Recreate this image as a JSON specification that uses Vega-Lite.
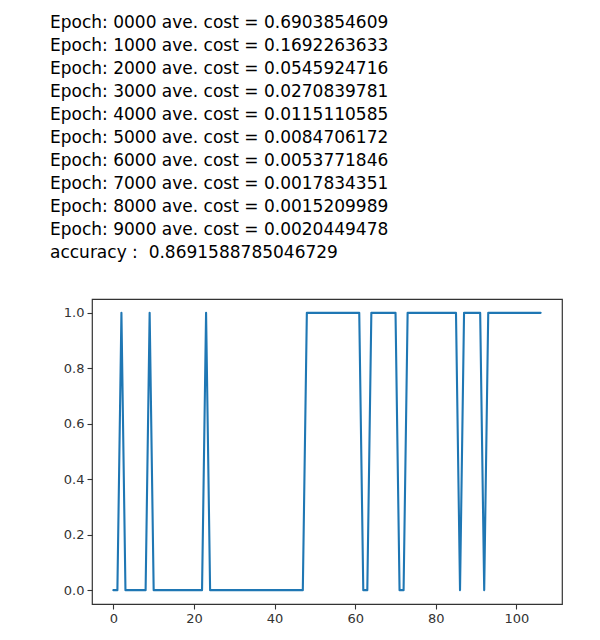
{
  "$schema": "https://vega.github.io/schema/vega-lite/v6.json",
  "autosize": {"type": "none"},
  "width": 470,
  "height": 305,
  "padding": {"left": 92, "top": 299, "right": 38, "bottom": 36},
  "background": "white",
  "title": {
    "text": [
      "Epoch: 0000 ave. cost = 0.6903854609",
      "Epoch: 1000 ave. cost = 0.1692263633",
      "Epoch: 2000 ave. cost = 0.0545924716",
      "Epoch: 3000 ave. cost = 0.0270839781",
      "Epoch: 4000 ave. cost = 0.0115110585",
      "Epoch: 5000 ave. cost = 0.0084706172",
      "Epoch: 6000 ave. cost = 0.0053771846",
      "Epoch: 7000 ave. cost = 0.0017834351",
      "Epoch: 8000 ave. cost = 0.0015209989",
      "Epoch: 9000 ave. cost = 0.0020449478",
      "accuracy :\u00a0 0.8691588785046729"
    ],
    "anchor": "start",
    "frame": "group",
    "orient": "top",
    "font": "DejaVu Sans",
    "fontSize": 17,
    "fontWeight": "normal",
    "lineHeight": 23,
    "color": "#000000",
    "dx": -42,
    "offset": 37
  },
  "config": {
    "view": {"stroke": "#333333", "strokeWidth": 1.2},
    "axis": {
      "labelFont": "DejaVu Sans",
      "labelFontSize": 13,
      "labelColor": "#333333",
      "tickColor": "#333333",
      "tickSize": 5,
      "tickWidth": 1.1,
      "labelPadding": 3,
      "grid": false,
      "domain": false,
      "title": null
    }
  },
  "data": {
    "values": [
      {"i": 0, "v": 0}, {"i": 1, "v": 0}, {"i": 2, "v": 1}, {"i": 3, "v": 0}, {"i": 4, "v": 0},
      {"i": 5, "v": 0}, {"i": 6, "v": 0}, {"i": 7, "v": 0}, {"i": 8, "v": 0}, {"i": 9, "v": 1},
      {"i": 10, "v": 0}, {"i": 11, "v": 0}, {"i": 12, "v": 0}, {"i": 13, "v": 0}, {"i": 14, "v": 0},
      {"i": 15, "v": 0}, {"i": 16, "v": 0}, {"i": 17, "v": 0}, {"i": 18, "v": 0}, {"i": 19, "v": 0},
      {"i": 20, "v": 0}, {"i": 21, "v": 0}, {"i": 22, "v": 0}, {"i": 23, "v": 1}, {"i": 24, "v": 0},
      {"i": 25, "v": 0}, {"i": 26, "v": 0}, {"i": 27, "v": 0}, {"i": 28, "v": 0}, {"i": 29, "v": 0},
      {"i": 30, "v": 0}, {"i": 31, "v": 0}, {"i": 32, "v": 0}, {"i": 33, "v": 0}, {"i": 34, "v": 0},
      {"i": 35, "v": 0}, {"i": 36, "v": 0}, {"i": 37, "v": 0}, {"i": 38, "v": 0}, {"i": 39, "v": 0},
      {"i": 40, "v": 0}, {"i": 41, "v": 0}, {"i": 42, "v": 0}, {"i": 43, "v": 0}, {"i": 44, "v": 0},
      {"i": 45, "v": 0}, {"i": 46, "v": 0}, {"i": 47, "v": 0}, {"i": 48, "v": 1}, {"i": 49, "v": 1},
      {"i": 50, "v": 1}, {"i": 51, "v": 1}, {"i": 52, "v": 1}, {"i": 53, "v": 1}, {"i": 54, "v": 1},
      {"i": 55, "v": 1}, {"i": 56, "v": 1}, {"i": 57, "v": 1}, {"i": 58, "v": 1}, {"i": 59, "v": 1},
      {"i": 60, "v": 1}, {"i": 61, "v": 1}, {"i": 62, "v": 0}, {"i": 63, "v": 0}, {"i": 64, "v": 1},
      {"i": 65, "v": 1}, {"i": 66, "v": 1}, {"i": 67, "v": 1}, {"i": 68, "v": 1}, {"i": 69, "v": 1},
      {"i": 70, "v": 1}, {"i": 71, "v": 0}, {"i": 72, "v": 0}, {"i": 73, "v": 1}, {"i": 74, "v": 1},
      {"i": 75, "v": 1}, {"i": 76, "v": 1}, {"i": 77, "v": 1}, {"i": 78, "v": 1}, {"i": 79, "v": 1},
      {"i": 80, "v": 1}, {"i": 81, "v": 1}, {"i": 82, "v": 1}, {"i": 83, "v": 1}, {"i": 84, "v": 1},
      {"i": 85, "v": 1}, {"i": 86, "v": 0}, {"i": 87, "v": 1}, {"i": 88, "v": 1}, {"i": 89, "v": 1},
      {"i": 90, "v": 1}, {"i": 91, "v": 1}, {"i": 92, "v": 0}, {"i": 93, "v": 1}, {"i": 94, "v": 1},
      {"i": 95, "v": 1}, {"i": 96, "v": 1}, {"i": 97, "v": 1}, {"i": 98, "v": 1}, {"i": 99, "v": 1},
      {"i": 100, "v": 1}, {"i": 101, "v": 1}, {"i": 102, "v": 1}, {"i": 103, "v": 1}, {"i": 104, "v": 1},
      {"i": 105, "v": 1}, {"i": 106, "v": 1}
    ]
  },
  "mark": {"type": "line", "color": "#1f77b4", "strokeWidth": 2.1, "strokeJoin": "round", "strokeCap": "round", "clip": false},
  "encoding": {
    "x": {
      "field": "i",
      "type": "quantitative",
      "scale": {"domain": [-5.3, 111.3], "nice": false, "zero": false},
      "axis": {"values": [0, 20, 40, 60, 80, 100], "format": "d"}
    },
    "y": {
      "field": "v",
      "type": "quantitative",
      "scale": {"domain": [-0.05, 1.05], "nice": false, "zero": false},
      "axis": {"values": [0, 0.2, 0.4, 0.6, 0.8, 1.0], "format": ".1f"}
    }
  }
}
